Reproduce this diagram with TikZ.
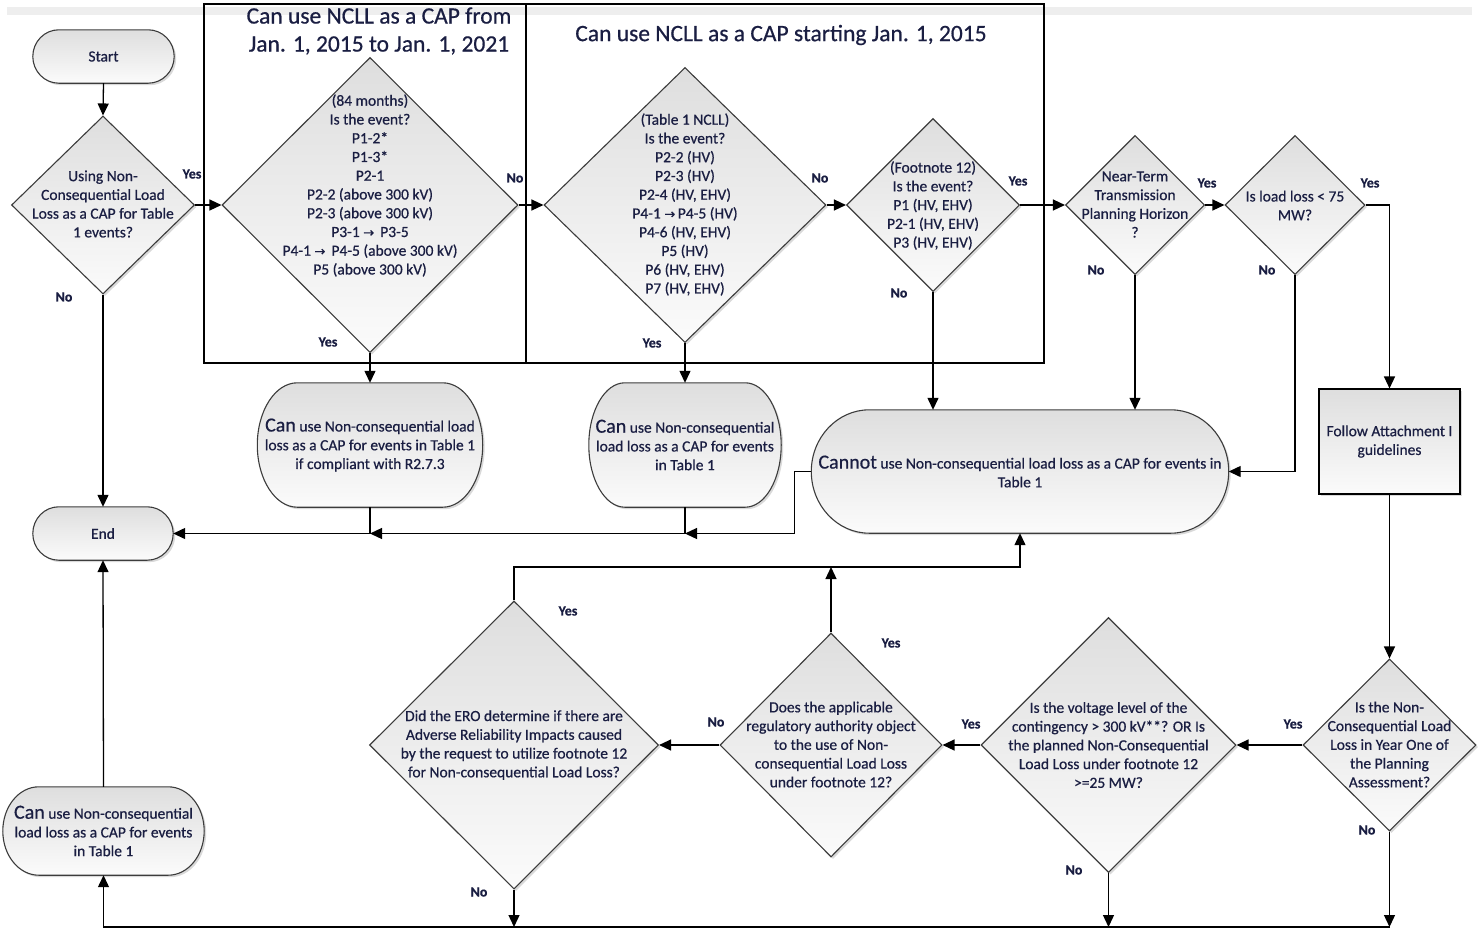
\documentclass[tikz,border=0pt]{standalone}
\usepackage{fontspec}
\setmainfont{Carlito}[FakeBold=0.6]
\newfontfamily\arrowfont{DejaVu Sans}[FakeBold=0.6]
\usetikzlibrary{shapes.geometric,arrows.meta,calc,shadows}
\pgfdeclarelayer{background}
\pgfsetlayers{background,main}
\definecolor{txt}{RGB}{26,30,66}
\definecolor{shtop}{RGB}{222,222,222}
\definecolor{shbot}{RGB}{251,251,251}
\definecolor{edge}{RGB}{60,60,60}
\definecolor{band}{RGB}{238,238,238}
\newcommand{\myarrow}{{\arrowfont\fontsize{13}{13}\selectfont →}\,}
\newcommand{\bigw}[1]{{\fontsize{20}{18.75}\selectfont #1}}
\tikzset{
  base/.style={font=\fontsize{15.5}{18.75}\selectfont, text=txt, align=center},
  shd/.style={drop shadow={shadow xshift=2pt,shadow yshift=-2pt,opacity=0.3}},
  dec/.style={diamond, draw=edge, line width=1.1pt, top color=shtop, bottom color=shbot, inner sep=0pt, shd},
  term/.style={base, inner sep=0pt},
  termfill/.style={draw=edge, line width=1.1pt, top color=shtop, bottom color=shbot, shd},
  procbox/.style={base, rectangle, draw=black, line width=1.1pt, top color=shtop, bottom color=shbot, inner sep=0pt, shd},
  lbl/.style={font=\bfseries\fontsize{14}{16}\selectfont, text=txt},
  conn/.style={line width=1.3pt, -{Triangle[length=12pt,width=11pt]}},
  frame/.style={draw=black, line width=1.2pt, inner sep=0pt},
  title/.style={font=\fontsize{23.5}{28}\selectfont, text=txt, align=center},
}
\newcommand{\termshape}[2]{%
  \begin{pgfonlayer}{background}
  \path[termfill] let \p1=(#1.north west), \p2=(#1.south east), \n1={(\y1-\y2)/2} in
    (\x1+#2pt,\y1) -- (\x2-#2pt,\y1)
    arc[start angle=90,end angle=-90,x radius=#2pt,y radius=\n1]
    -- (\x1+#2pt,\y2)
    arc[start angle=270,end angle=90,x radius=#2pt,y radius=\n1] -- cycle;
  \end{pgfonlayer}}
\begin{document}
\begin{tikzpicture}[x=1pt,y=-1pt]
\useasboundingbox (0,0) rectangle (1478,930);
\fill[band] (7,7) rectangle (1472,15);

% frames and titles
\node[frame, minimum width=322pt, minimum height=359pt] (frA) at (365,183.5) {};
\node[frame, minimum width=518pt, minimum height=359pt] (frB) at (785,183.5) {};
\node[title] (t1) at (379,31) {Can use NCLL as a CAP from\\Jan. 1, 2015 to Jan. 1, 2021};
\node[title] (t2) at (781,35) {Can use NCLL as a CAP starting Jan. 1, 2015};

% terminals
\node[term, minimum width=141pt, minimum height=53pt] (start) at (103.5,56.5) {Start};
\termshape{start}{26}
\node[term, minimum width=140pt, minimum height=53pt] (end) at (103,533.5) {End};
\termshape{end}{26}
\node[term, minimum width=225pt, minimum height=124pt] (can1) at (370,445)
  {\bigw{Can} use Non-consequential load\\loss as a CAP for events in Table 1\\if compliant with R2.7.3};
\termshape{can1}{40}
\node[term, minimum width=192pt, minimum height=124pt] (can2) at (685,445)
  {\bigw{Can} use Non-consequential\\load loss as a CAP for events\\in Table 1};
\termshape{can2}{36}
\node[term, minimum width=417pt, minimum height=123pt] (cannot) at (1020,471.5)
  {\bigw{Cannot} use Non-consequential load loss as a CAP for events in\\Table 1};
\termshape{cannot}{58}
\node[term, minimum width=201pt, minimum height=88pt] (can3) at (103.5,831)
  {\bigw{Can} use Non-consequential\\load loss as a CAP for events\\in Table 1};
\termshape{can3}{36}
\node[procbox, minimum width=141pt, minimum height=105pt] (follow) at (1389.5,441.5)
  {Follow Attachment I\\guidelines};

% decisions
\node[dec, minimum width=183pt, minimum height=178pt] (d1) at (103,205) {};
\node[dec, minimum width=296pt, minimum height=295pt] (d2) at (370,205) {};
\node[dec, minimum width=282pt, minimum height=275pt] (d3) at (685,205) {};
\node[dec, minimum width=173pt, minimum height=173pt] (d4) at (933,205) {};
\node[dec, minimum width=139pt, minimum height=139pt] (d5) at (1135,205) {};
\node[dec, minimum width=140pt, minimum height=139pt] (d6) at (1295,205) {};
\node[dec, minimum width=173pt, minimum height=172pt] (d7) at (1389.5,745) {};
\node[dec, minimum width=255pt, minimum height=255pt] (d8) at (1108.5,745) {};
\node[dec, minimum width=222pt, minimum height=224pt] (d9) at (831,745) {};
\node[dec, minimum width=289pt, minimum height=288pt] (d10) at (514,745) {};

\node[base] (d1t) at (103,204) {Using Non-\\Consequential Load\\Loss as a CAP for Table\\1 events?};
\node[base] (d2t) at (370,185.5) {(84 months)\\Is the event?\\P1-2*\\P1-3*\\P2-1\\P2-2 (above 300 kV)\\P2-3 (above 300 kV)\\P3-1 \myarrow{} P3-5\\P4-1 \myarrow{} P4-5 (above 300 kV)\\P5 (above 300 kV)};
\node[base] (d3t) at (685,204.5) {(Table 1 NCLL)\\Is the event?\\P2-2 (HV)\\P2-3 (HV)\\P2-4 (HV, EHV)\\P4-1 \myarrow{}P4-5 (HV)\\P4-6 (HV, EHV)\\P5 (HV)\\P6 (HV, EHV)\\P7 (HV, EHV)};
\node[base] (d4t) at (933,205.5) {(Footnote 12)\\Is the event?\\P1 (HV, EHV)\\P2-1 (HV, EHV)\\P3 (HV, EHV)};
\node[base] (d5t) at (1135,204.5) {Near-Term\\Transmission\\Planning Horizon\\?};
\node[base] (d6t) at (1295,205.5) {Is load loss < 75\\MW?};
\node[base] (d7t) at (1389.5,744.5) {Is the Non-\\Consequential Load\\Loss in Year One of\\the Planning\\Assessment?};
\node[base] (d8t) at (1108.5,745) {Is the voltage level of the\\contingency > 300 kV**? OR Is\\the planned Non-Consequential\\Load Loss under footnote 12\\>=25 MW?};
\node[base] (d9t) at (831,744.5) {Does the applicable\\regulatory authority object\\to the use of Non-\\consequential Load Loss\\under footnote 12?};
\node[base] (d10t) at (514,745) {Did the ERO determine if there are\\Adverse Reliability Impacts caused\\by the request to utilize footnote 12\\for Non-consequential Load Loss?};

% labels
\node[lbl] (l1y) at (192,174) {Yes};
\node[lbl] (l1n) at (64,297) {No};
\node[lbl] (l2n) at (515,178) {No};
\node[lbl] (l2y) at (328,342) {Yes};
\node[lbl] (l3n) at (820,178) {No};
\node[lbl] (l3y) at (652,343) {Yes};
\node[lbl] (l4y) at (1018,181) {Yes};
\node[lbl] (l4n) at (899,293) {No};
\node[lbl] (l5y) at (1207,183) {Yes};
\node[lbl] (l5n) at (1096,270) {No};
\node[lbl] (l6y) at (1370,183) {Yes};
\node[lbl] (l6n) at (1267,270) {No};
\node[lbl] (l7y) at (1293,724) {Yes};
\node[lbl] (l7n) at (1367,830) {No};
\node[lbl] (l8y) at (971,724) {Yes};
\node[lbl] (l8n) at (1074,870) {No};
\node[lbl] (l9n) at (716,722) {No};
\node[lbl] (l9y) at (891,643) {Yes};
\node[lbl] (l10y) at (568,611) {Yes};
\node[lbl] (l10n) at (479,892) {No};

% helper coordinates
\coordinate (botR) at (1389.5,927);
\coordinate (botL) at (103.5,927);
\coordinate (ml) at (1020,567);

% connectors
\draw[conn] (start.south) -- (d1.north);
\draw[conn] (d1.east) -- (d2.west);
\draw[conn] (d1.south) -- (end.north);
\draw[conn] (d2.east) -- (d3.west);
\draw[conn] (d2.south) -- (can1.north);
\draw[conn] (d3.east) -- (d4.west);
\draw[conn] (d3.south) -- (can2.north);
\draw[conn] (d4.east) -- (d5.west);
\draw[conn] (d4.south) -- (d4.south |- cannot.north);
\draw[conn] (d5.east) -- (d6.west);
\draw[conn] (d5.south) -- (d5.south |- cannot.north);
\draw[conn] (d6.east) -| (follow.north);
\draw[conn] (d6.south) |- (cannot.east);
\draw[conn] (follow.south) -- (d7.north);
\draw[conn] (d7.west) -- (d8.east);
\draw[conn] (d8.west) -- (d9.east);
\draw[conn] (d9.west) -- (d10.east);
\draw[conn] (d7.south) -- (botR);
\draw[conn] (d8.south) -- (d8.south |- botR);
\draw[conn] (d10.south) -- (d10.south |- botR);
\draw[conn] (botR) -- (botL) -- (can3.south);
\draw[conn] (can3.north) -- (end.south);
\draw[conn] (d10.north) |- (ml) -- (cannot.south);
\draw[conn] (d9.north) -- (d9.north |- ml);
\draw[conn] (can1.south) |- (end.east);
\draw[conn] (can2.south) |- (can1.south |- end.east);
\draw[conn] (cannot.west) -- ++(-17,0) |- (can2.south |- end.east);
\end{tikzpicture}
\end{document}
